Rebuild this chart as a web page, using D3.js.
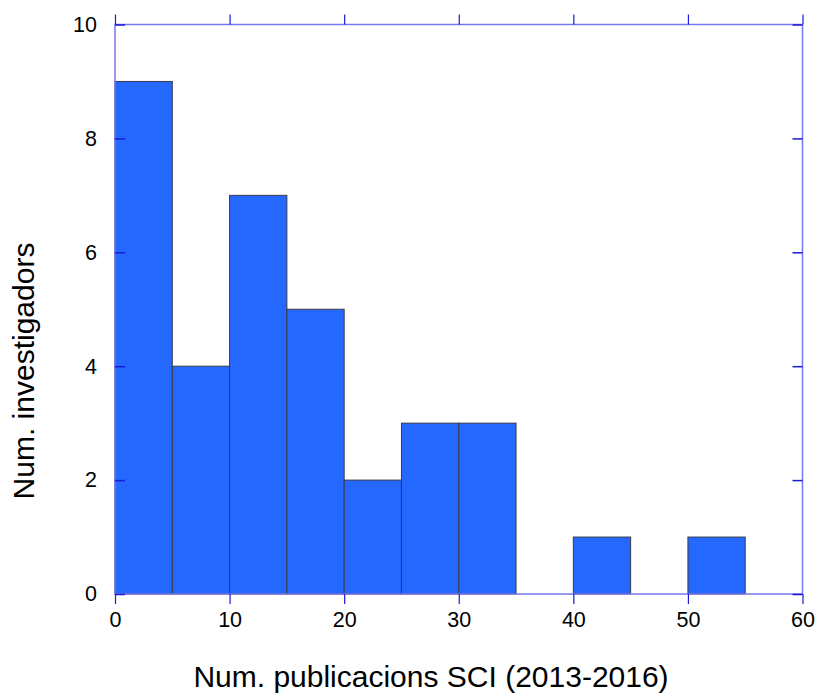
<!DOCTYPE html>
<html lang="en">
<head>
  <meta charset="UTF-8">
  <title>Num. publicacions SCI</title>
  <style>
    body { margin: 0; background: #fff; }
    text { font-family: "Liberation Sans", Arial, sans-serif; fill: #000; }
  </style>
  <script src="https://d3js.org/d3.v7.min.js"></script>
</head>
<body>
<div id="chart"></div>
<script>
  // Histogram bins (lower edge) and counts
  var binStarts = [0, 5, 10, 15, 20, 25, 30, 35, 40, 45, 50, 55];
  var binWidth = 5;
  var counts = [9, 4, 7, 5, 2, 3, 3, 0, 1, 0, 1, 0];
  var xTicks = [0, 10, 20, 30, 40, 50, 60];
  var yTicks = [0, 2, 4, 6, 8, 10];

  var width = 820, height = 695;
  // plot area edges (avoid "top", it is window.top)
  var pLeft = 115, pRight = 802.5, pTop = 24.5, pBottom = 594;

  var svg = d3.select("#chart").append("svg")
    .attr("width", width)
    .attr("height", height);

  var x = d3.scaleLinear().domain([0, 60]).range([pLeft, pRight]);
  var y = d3.scaleLinear().domain([0, 10]).range([pBottom, pTop]);

  // Bars
  svg.append("g")
    .selectAll("rect")
    .data(binStarts.map((b, i) => ({ x0: b, x1: b + binWidth, n: counts[i] })).filter(d => d.n > 0))
    .enter().append("rect")
    .attr("x", d => x(d.x0))
    .attr("y", d => y(d.n))
    .attr("width", d => x(d.x1) - x(d.x0))
    .attr("height", d => y(0) - y(d.n))
    .attr("fill", "#2468ff")
    .attr("stroke", "#3a3a48")
    .attr("stroke-width", 1);

  // Frame
  svg.append("rect")
    .attr("x", pLeft).attr("y", pTop)
    .attr("width", pRight - pLeft).attr("height", pBottom - pTop)
    .attr("fill", "none")
    .attr("stroke", "#7878ee")
    .attr("stroke-width", 1.5);

  var tickColor = "#1a1ad8";
  var tickLen = 10;
  var labelFont = "21.5px";

  // Bottom axis: outward ticks + labels
  var gx = svg.append("g").attr("transform", `translate(0,${pBottom})`)
    .call(d3.axisBottom(x).tickValues(xTicks).tickSize(tickLen).tickPadding(8));
  gx.select(".domain").remove();
  gx.selectAll("line").attr("stroke", tickColor).attr("stroke-width", 1.2);
  gx.selectAll("text").style("font-size", labelFont).style("font-family", "Liberation Sans, Arial, sans-serif").attr("fill", "#000");

  // Top axis: outward ticks, no labels
  var gxt = svg.append("g").attr("transform", `translate(0,${pTop})`)
    .call(d3.axisTop(x).tickValues(xTicks).tickSize(tickLen).tickFormat(""));
  gxt.select(".domain").remove();
  gxt.selectAll("line").attr("stroke", tickColor).attr("stroke-width", 1.2);

  // Left axis: inward ticks + labels
  var gy = svg.append("g").attr("transform", `translate(${pLeft},0)`)
    .call(d3.axisLeft(y).tickValues(yTicks).tickSizeInner(-tickLen).tickSizeOuter(0).tickPadding(18));
  gy.select(".domain").remove();
  gy.selectAll("line").attr("stroke", tickColor).attr("stroke-width", 1.5);
  gy.selectAll("text").style("font-size", labelFont).style("font-family", "Liberation Sans, Arial, sans-serif").attr("fill", "#000");

  // Right axis: inward ticks
  var gyr = svg.append("g").attr("transform", `translate(${pRight},0)`)
    .call(d3.axisRight(y).tickValues(yTicks).tickSizeInner(-tickLen).tickSizeOuter(0).tickFormat(""));
  gyr.select(".domain").remove();
  gyr.selectAll("line").attr("stroke", tickColor).attr("stroke-width", 1.5);

  // Axis titles
  svg.append("text")
    .attr("x", 431)
    .attr("y", 687)
    .attr("text-anchor", "middle")
    .style("font-size", "30px")
    .text("Num. publicacions SCI (2013-2016)");

  svg.append("text")
    .attr("transform", "translate(34,371) rotate(-90)")
    .attr("text-anchor", "middle")
    .style("font-size", "30px")
    .text("Num. investigadors");
</script>
</body>
</html>
